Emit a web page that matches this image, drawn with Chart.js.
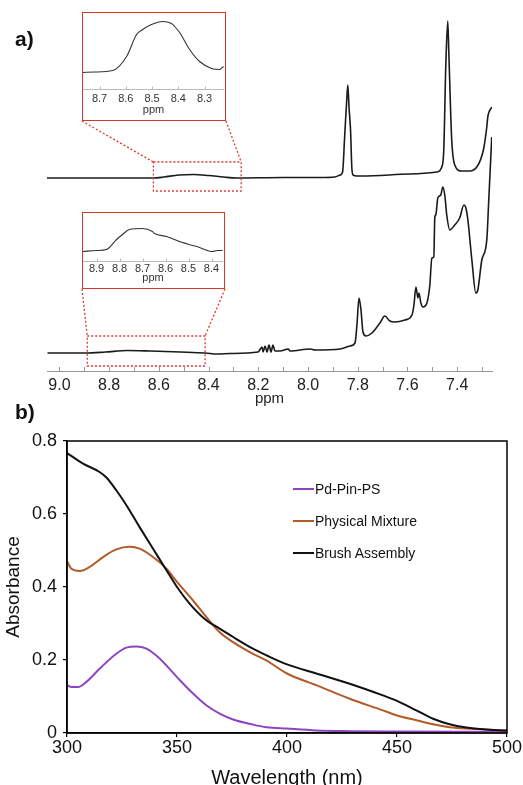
<!DOCTYPE html>
<html>
<head>
<meta charset="utf-8">
<script src="https://cdn.jsdelivr.net/npm/chart.js@4.4.1/dist/chart.umd.min.js"></script>
<style>
  html, body { margin: 0; padding: 0; background: #fff; overflow: hidden; }
  body { width: 523px; height: 785px; position: relative; font-family: "Liberation Sans", Arial, sans-serif; color: #111; }
  canvas { position: absolute; }
  #nmr { left: 0; top: 0; }
  #uv { left: 0; top: 395px; }
  .inset { position: absolute; box-sizing: border-box; border: 1.5px solid #d8352f; background: #fff; z-index: 2; }
  .inset canvas { left: 0; top: 0; }
  .tag { position: absolute; font-weight: bold; font-size: 21px; z-index: 3; }
  #legend { position: absolute; left: 293px; top: 473px; font-size: 14px; z-index: 3; }
  #legend .row { display: flex; align-items: center; height: 32px; }
  #legend .sw { width: 21px; height: 2px; margin-right: 1px; }
</style>
</head>
<body>
<canvas id="nmr" width="523" height="412"></canvas>
<div class="inset" id="inset1" style="left:82px; top:12px; width:144px; height:109px;">
  <canvas id="c-inset1" width="141" height="106"></canvas>
</div>
<div class="inset" id="inset2" style="left:82px; top:212px; width:143px; height:77px;">
  <canvas id="c-inset2" width="140" height="74"></canvas>
</div>
<canvas id="uv" width="523" height="395"></canvas>
<div class="tag" style="left:15px; top:27px;">a)</div>
<div class="tag" style="left:15px; top:400px;">b)</div>
<div id="legend"></div>

<script>
// ---- a) 1H NMR, ppm vs relative intensity (arbitrary units) ----
const topPpm = [9.05, 8.70, 8.62, 8.58, 8.52, 8.46, 8.40, 8.34, 8.29, 8.10, 7.95, 7.892, 7.871, 7.861, 7.853, 7.849, 7.845, 7.840, 7.835, 7.829, 7.824, 7.819, 7.803, 7.783, 7.59, 7.482, 7.462, 7.454, 7.446, 7.438, 7.434, 7.422, 7.410, 7.382, 7.349, 7.321, 7.305, 7.293, 7.281, 7.277, 7.261];
const topInt = [0, 0, 0, 1, 3, 3.5, 2.5, 1, 0, 0.5, 0.5, 1, 3, 6, 40, 58, 75, 93, 70, 48, 11, 3, 2, 2, 4, 6, 11, 28, 111, 157, 128, 38, 13, 7, 7, 11, 19, 30, 51, 61, 71];
const topOffset = 193;

const botPpm = [9.048, 8.896, 8.815, 8.727, 8.635, 8.514, 8.414, 8.365, 8.313, 8.201, 8.185, 8.181, 8.173, 8.165, 8.157, 8.149, 8.141, 8.133, 8.112, 8.080, 8.072, 7.992, 7.972, 7.871, 7.831, 7.811, 7.803, 7.795, 7.787, 7.779, 7.767, 7.743, 7.711, 7.691, 7.671, 7.651, 7.610, 7.582, 7.574, 7.566, 7.558, 7.554, 7.546, 7.538, 7.522, 7.510, 7.502, 7.494, 7.490, 7.486, 7.478, 7.466, 7.458, 7.450, 7.442, 7.430, 7.410, 7.390, 7.373, 7.365, 7.357, 7.341, 7.325, 7.317, 7.301, 7.281, 7.273, 7.261];
const botInt = [0, 0, 1, 2.5, 2, 1, 0, -1, -0.5, 1, 6, 1, 7, 1, 8, 1, 8, 2, 2, 4, 2, 4, 3, 4, 7, 10, 29, 55, 43, 21, 17, 20, 30, 37, 32, 31, 33, 38, 48, 66, 55, 60, 50, 46, 50, 68, 95, 96, 136, 138, 155, 158, 166, 158, 138, 123, 128, 135, 148, 145, 133, 93, 60, 63, 93, 113, 153, 216];
const botOffset = 18;

const nmrTicks = [9.0, 8.9, 8.8, 8.7, 8.6, 8.5, 8.4, 8.3, 8.2, 8.1, 8.0, 7.9, 7.8, 7.7, 7.6, 7.5, 7.4, 7.3];
const nmrLabels = ['9.0', '', '8.8', '', '8.6', '', '8.4', '', '8.2', '', '8.0', '', '7.8', '', '7.6', '', '7.4', ''];

// insets (zoomed baseline regions)
const in1Ppm = [8.763, 8.72, 8.650, 8.597, 8.559, 8.536, 8.502, 8.460, 8.426, 8.414, 8.395, 8.357, 8.319, 8.273, 8.243, 8.228];
const in1Int = [17, 17.5, 19, 33, 55, 60, 65, 68, 66, 63, 57, 40, 28, 21, 20, 23];
const in1Ticks = [8.7, 8.6, 8.5, 8.4, 8.3];

const in2Ppm = [8.959, 8.90, 8.857, 8.813, 8.787, 8.757, 8.700, 8.657, 8.648, 8.596, 8.526, 8.452, 8.396, 8.374, 8.352];
const in2Int = [10, 11, 12, 22, 27, 32, 33, 30, 28, 25, 19, 14, 10, 11, 11];
const in2Ticks = [8.9, 8.8, 8.7, 8.6, 8.5, 8.4];

// dotted zoom windows on the main spectra: ppm span and intensity span
const zoomRegions = [
  { from: 8.622, to: 8.269, hi: 209, lo: 180, inset: 'inset1' },
  { from: 8.888, to: 8.414, hi: 35, lo: 5, inset: 'inset2' }
];

// ---- b) UV-vis ----
const seriesNames = ['Pd-Pin-PS', 'Physical Mixture', 'Brush Assembly'];
const seriesColors = ['#8d45c2', '#b35a29', '#111111'];

const pdWl = [300, 302, 305, 308.8, 314.8, 322.4, 327, 331.5, 336.1, 342.1, 350, 357.3, 363.3, 369.4, 375.5, 384.5, 390.6, 400, 413.3, 428.5, 451, 500];
const pdAbs = [0.131, 0.126, 0.126, 0.140, 0.176, 0.217, 0.234, 0.237, 0.231, 0.204, 0.153, 0.108, 0.076, 0.053, 0.037, 0.023, 0.016, 0.012, 0.007, 0.005, 0.004, 0.003];

const mixWl = [300, 302, 305.8, 310.3, 316.4, 322.4, 328.5, 333, 339.1, 345.2, 350, 357.3, 363.3, 369.4, 375.5, 384.5, 390.6, 400, 413.3, 428.5, 443.6, 450, 458.8, 466.4, 473.9, 481.5, 500];
const mixAbs = [0.471, 0.450, 0.444, 0.455, 0.482, 0.503, 0.510, 0.505, 0.482, 0.450, 0.414, 0.363, 0.318, 0.276, 0.249, 0.217, 0.199, 0.163, 0.131, 0.094, 0.062, 0.048, 0.035, 0.024, 0.016, 0.012, 0.007];

const brushWl = [300, 307.3, 314.8, 317.9, 322.4, 327, 333, 339.1, 345.2, 350, 355.8, 363.3, 369.4, 375.5, 384.5, 390.6, 400, 413.3, 428.5, 443.6, 450, 458.8, 466.4, 473.9, 481.5, 489.1, 500];
const brushAbs = [0.767, 0.738, 0.715, 0.700, 0.665, 0.624, 0.564, 0.505, 0.446, 0.400, 0.354, 0.309, 0.286, 0.263, 0.231, 0.213, 0.188, 0.163, 0.135, 0.103, 0.088, 0.062, 0.039, 0.024, 0.015, 0.010, 0.007];

const uvXTicks = [300, 350, 400, 450, 500];
const uvYTicks = [0, 0.2, 0.4, 0.6, 0.8];
const uvYLabels = ['0', '0.2', '0.4', '0.6', '0.8'];

const FONT = '"Liberation Sans", Arial, sans-serif';
Chart.defaults.font.family = FONT;

const pts = (xs, ys, off = 0) => xs.map((x, i) => ({ x, y: ys[i] + off }));
const fixTicks = (vals) => (s) => { s.ticks = vals.map((v) => ({ value: v })); };

// small tick marks pointing up into the plot (NMR style)
const upTicks = {
  id: 'upTicks',
  afterDraw(chart, args, opts) {
    const s = chart.scales.x, ctx = chart.ctx, y0 = chart.chartArea.bottom;
    ctx.save();
    ctx.strokeStyle = opts.color || '#999';
    ctx.lineWidth = 1;
    s.ticks.forEach((t) => {
      const px = Math.round(s.getPixelForValue(t.value)) + 0.5;
      ctx.beginPath();
      ctx.moveTo(px, y0);
      ctx.lineTo(px, y0 - (opts.len || 4));
      ctx.stroke();
    });
    ctx.restore();
  }
};

const zoomBoxes = {
  id: 'zoomBoxes',
  afterDatasetsDraw(chart) {
    const xs = chart.scales.x, ys = chart.scales.y, ctx = chart.ctx;
    ctx.save();
    ctx.strokeStyle = '#e0392f';
    ctx.lineWidth = 1.3;
    ctx.setLineDash([2, 2]);
    zoomRegions.forEach((r) => {
      const x1 = xs.getPixelForValue(r.from), x2 = xs.getPixelForValue(r.to);
      const y1 = ys.getPixelForValue(r.hi), y2 = ys.getPixelForValue(r.lo);
      ctx.strokeRect(x1, y1, x2 - x1, y2 - y1);
      const box = document.getElementById(r.inset);
      const bl = box.offsetLeft, br = box.offsetLeft + box.offsetWidth, bb = box.offsetTop + box.offsetHeight;
      ctx.beginPath();
      ctx.moveTo(bl, bb); ctx.lineTo(x1, y1);
      ctx.moveTo(br, bb); ctx.lineTo(x2, y1);
      ctx.stroke();
    });
    ctx.restore();
  }
};

const frame = {
  id: 'frame',
  afterDraw(chart) {
    const a = chart.chartArea, ctx = chart.ctx;
    ctx.save();
    ctx.strokeStyle = '#000';
    ctx.lineWidth = 1.5;
    ctx.strokeRect(a.left, a.top, a.right - a.left, a.bottom - a.top);
    ctx.restore();
  }
};

const specLine = { borderColor: '#1a1a1a', borderWidth: 1.6, pointRadius: 0, cubicInterpolationMode: 'monotone', fill: false };
const quiet = { legend: { display: false }, tooltip: { enabled: false } };
const noGrid = { display: false, drawTicks: false, tickLength: 0 };

new Chart(document.getElementById('nmr'), {
  type: 'line',
  data: {
    datasets: [
      { ...specLine, data: pts(topPpm, topInt, topOffset) },
      { ...specLine, data: pts(botPpm, botInt, botOffset) }
    ]
  },
  options: {
    responsive: false,
    animation: false,
    layout: { padding: { left: 47, right: 31, top: 0, bottom: 0 } },
    plugins: { ...quiet, upTicks: { color: '#999', len: 4 } },
    scales: {
      x: {
        type: 'linear', reverse: true, min: 7.26, max: 9.05,
        afterBuildTicks: fixTicks(nmrTicks),
        afterFit: (s) => { s.height = 41; },
        grid: noGrid,
        border: { display: true, color: '#999', width: 1 },
        ticks: { padding: 5, color: '#222', font: { size: 16 }, autoSkip: false, maxRotation: 0, callback: (v, i) => nmrLabels[i] },
        title: { display: true, text: 'ppm', color: '#222', font: { size: 15 }, padding: { top: 0, bottom: 4 } }
      },
      y: { display: false, min: 0, max: 371 }
    }
  },
  plugins: [upTicks, zoomBoxes]
});

function insetChart(id, xs, ys, lo, hi, yMax, ticks, axisH, pad) {
  return new Chart(document.getElementById(id), {
    type: 'line',
    data: { datasets: [{ ...specLine, borderColor: '#333', borderWidth: 1.1, data: pts(xs, ys) }] },
    options: {
      responsive: false,
      animation: false,
      layout: { padding: 0 },
      plugins: { ...quiet, upTicks: { color: '#bbb', len: 3 } },
      scales: {
        x: {
          type: 'linear', reverse: true, min: lo, max: hi,
          afterBuildTicks: fixTicks(ticks),
          afterFit: (s) => { s.height = axisH; },
          grid: noGrid,
          border: { display: true, color: '#bbb', width: 1 },
          ticks: { padding: pad, color: '#333', font: { size: 11 }, autoSkip: false, maxRotation: 0, callback: (v) => v.toFixed(1) },
          title: { display: true, text: 'ppm', color: '#333', font: { size: 11 }, padding: { top: 0, bottom: 2 } }
        },
        y: { display: false, min: 0, max: yMax }
      }
    },
    plugins: [upTicks]
  });
}

insetChart('c-inset1', in1Ppm, in1Int, 8.226, 8.763, 76.5, in1Ticks, 29.5, 3);
insetChart('c-inset2', in2Ppm, in2Int, 8.350, 8.959, 48.5, in2Ticks, 25.5, 1);

const uvSets = [[pdWl, pdAbs], [mixWl, mixAbs], [brushWl, brushAbs]];
const axisCommon = {
  grid: { drawOnChartArea: false, drawTicks: true, tickLength: 4, color: '#000', lineWidth: 1.2 },
  border: { display: true, color: '#000', width: 1.5 }
};

new Chart(document.getElementById('uv'), {
  type: 'line',
  data: {
    datasets: uvSets.map(([xs, ys], i) => ({
      label: seriesNames[i],
      data: pts(xs, ys),
      borderColor: seriesColors[i],
      borderWidth: 2,
      pointRadius: 0,
      cubicInterpolationMode: 'monotone',
      order: 3 - i
    }))
  },
  options: {
    responsive: false,
    animation: false,
    layout: { padding: { left: 0, right: 16, top: 46, bottom: 0 } },
    plugins: quiet,
    scales: {
      x: {
        type: 'linear', min: 300, max: 500,
        afterBuildTicks: fixTicks(uvXTicks),
        afterFit: (s) => { s.height = 57; },
        ...axisCommon,
        ticks: { padding: 0, color: '#111', font: { size: 18 }, maxRotation: 0, autoSkip: false },
        title: { display: true, text: 'Wavelength (nm)', color: '#111', font: { size: 20 }, padding: { top: 0, bottom: 0 } }
      },
      y: {
        type: 'linear', min: 0, max: 0.8,
        afterBuildTicks: fixTicks(uvYTicks),
        afterFit: (s) => { s.width = 67; },
        ...axisCommon,
        ticks: { padding: 6, color: '#111', font: { size: 18 }, autoSkip: false, callback: (v, i) => uvYLabels[i] },
        title: { display: true, text: 'Absorbance', color: '#111', font: { size: 19 }, padding: { top: 2, bottom: 0 } }
      }
    }
  },
  plugins: [frame]
});

const legend = document.getElementById('legend');
seriesNames.forEach((name, i) => {
  const row = document.createElement('div');
  row.className = 'row';
  const sw = document.createElement('span');
  sw.className = 'sw';
  sw.style.background = seriesColors[i];
  const txt = document.createElement('span');
  txt.textContent = name;
  row.append(sw, txt);
  legend.append(row);
});
</script>
</body>
</html>
